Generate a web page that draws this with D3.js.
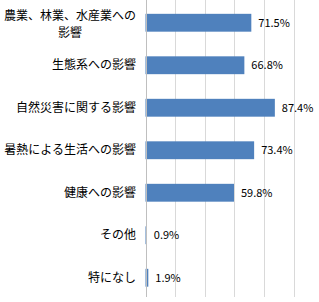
<!DOCTYPE html>
<html>
<head>
<meta charset="utf-8">
<script src="https://cdn.jsdelivr.net/npm/d3@7"></script>
<style>
  body { margin: 0; background: #fff; }
  svg { display: block; font-family: "Noto Sans CJK JP", "Noto Sans", sans-serif; }
</style>
</head>
<body>
<svg id="chart"></svg>
<script>
const categories = [
  ['農業、林業、水産業への', '影響'],
  ['生態系への影響'],
  ['自然災害に関する影響'],
  ['暑熱による生活への影響'],
  ['健康への影響'],
  ['その他'],
  ['特になし'],
];
const values = [71.5, 66.8, 87.4, 73.4, 59.8, 0.9, 1.9];
const gridTicks = [0, 20, 40, 60, 80, 100];

const w = 319;
const h = 302;
const plotLeft = 145.5;
const plotRight = 293.5;
const plotTop = 1.5;
const plotBottom = 299;

const svg = d3.select('#chart').attr('width', w).attr('height', h);

const x = d3.scaleLinear().domain([0, 100]).range([plotLeft, plotRight]);
const y = d3
  .scaleBand()
  .domain(d3.range(categories.length))
  .range([plotTop, plotBottom])
  .paddingInner(0.58)
  .paddingOuter(0.29);

// gridlines
svg
  .selectAll('line.grid')
  .data(gridTicks.slice(1))
  .enter()
  .append('line')
  .attr('class', 'grid')
  .attr('x1', (d) => Math.round(x(d)) + 0.5)
  .attr('x2', (d) => Math.round(x(d)) + 0.5)
  .attr('y1', 0)
  .attr('y2', 297)
  .attr('stroke', '#d9d9d9')
  .attr('stroke-width', 1);

// bars
svg
  .selectAll('rect.bar')
  .data(values)
  .enter()
  .append('rect')
  .attr('class', 'bar')
  .attr('x', x(0))
  .attr('y', (d, i) => y(i))
  .attr('width', (d) => x(d) - x(0))
  .attr('height', y.bandwidth())
  .attr('fill', '#4f81bd');

// axis line
svg
  .append('line')
  .attr('x1', Math.round(x(0)) + 0.5)
  .attr('x2', Math.round(x(0)) + 0.5)
  .attr('y1', 0)
  .attr('y2', 297)
  .attr('stroke', '#bfbfbf');

// value labels
svg
  .selectAll('text.val')
  .data(values)
  .enter()
  .append('text')
  .attr('class', 'val')
  .attr('x', (d) => x(d) + 7)
  .attr('y', (d, i) => y(i) + y.bandwidth() / 2)
  .attr('dy', '0.35em')
  .attr('font-size', 11)
  .attr('fill', '#000')
  .text((d) => d.toFixed(1) + '%');

// category labels
const labelX = 136;
categories.forEach((lines, i) => {
  const cy = y(i) + y.bandwidth() / 2;
  const t = svg
    .append('text')
    .attr('font-size', 12)
    .attr('fill', '#000');
  if (lines.length === 1) {
    t.attr('x', labelX)
      .attr('y', cy)
      .attr('dy', '0.35em')
      .attr('text-anchor', 'end')
      .text(lines[0]);
  } else {
    const lh = 17;
    const first = t
      .append('tspan')
      .attr('x', labelX)
      .attr('y', cy - lh / 2 + 1.5)
      .attr('dy', '0.35em')
      .attr('text-anchor', 'end')
      .text(lines[0]);
    const wdt = first.node().getComputedTextLength();
    t.append('tspan')
      .attr('x', labelX - wdt / 2)
      .attr('y', cy + lh / 2 + 1.5)
      .attr('dy', '0.35em')
      .attr('text-anchor', 'middle')
      .text(lines[1]);
  }
});
</script>
</body>
</html>
